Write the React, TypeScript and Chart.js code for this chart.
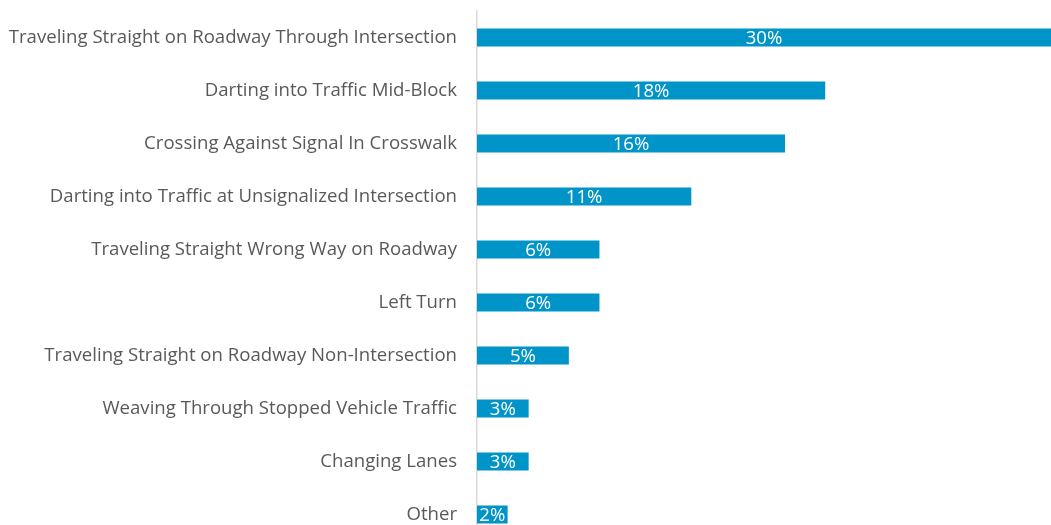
import React, { useEffect, useRef } from "react";
import { Chart, registerables } from "chart.js";

Chart.register(...registerables);

// Pre-crash action categories, top to bottom
const categories: string[] = [
  "Traveling Straight on Roadway Through Intersection",
  "Darting into Traffic Mid-Block",
  "Crossing Against Signal In Crosswalk",
  "Darting into Traffic at Unsignalized Intersection",
  "Traveling Straight Wrong Way on Roadway",
  "Left Turn",
  "Traveling Straight on Roadway Non-Intersection",
  "Weaving Through Stopped Vehicle Traffic",
  "Changing Lanes",
  "Other",
];

// Share of crashes (percent)
const shares: number[] = [30, 18.2, 16.1, 11.2, 6.4, 6.4, 4.8, 2.7, 2.7, 1.6];

const BAR_COLOR = "#0094c8";
const LABEL_COLOR = "#595959";
const FONT = "'Open Sans', Lato, sans-serif";
const FONT_SIZE = 18.6;

// Draws the rounded percentage in white at the middle of each bar
const barValueLabels = {
  id: "barValueLabels",
  afterDatasetsDraw(chart: any) {
    const { ctx } = chart;
    const meta = chart.getDatasetMeta(0);
    const values = chart.data.datasets[0].data as number[];
    ctx.save();
    ctx.beginPath();
    ctx.rect(chart.chartArea.left, chart.chartArea.top, chart.chartArea.width, chart.chartArea.height);
    ctx.clip();
    ctx.fillStyle = "#ffffff";
    ctx.font = `${FONT_SIZE}px ${FONT}`;
    ctx.textAlign = "center";
    ctx.textBaseline = "middle";
    meta.data.forEach((bar: any, i: number) => {
      const cx = (bar.base + bar.x) / 2;
      ctx.fillText(`${Math.round(values[i])}%`, cx, bar.y + 1);
    });
    ctx.restore();
  },
};

export default function App() {
  const canvasRef = useRef<HTMLCanvasElement | null>(null);

  useEffect(() => {
    if (!canvasRef.current) return;
    const chart = new Chart(canvasRef.current, {
      type: "bar",
      data: {
        labels: categories,
        datasets: [
          {
            data: shares,
            backgroundColor: BAR_COLOR,
            borderWidth: 0,
            categoryPercentage: 1,
            barPercentage: 0.34,
          },
        ],
      },
      options: {
        indexAxis: "y",
        animation: false,
        responsive: false,
        maintainAspectRatio: false,
        layout: { padding: { top: 11, bottom: 4, left: 0, right: 0 } },
        plugins: {
          legend: { display: false },
          tooltip: { enabled: false },
        },
        scales: {
          x: {
            display: false,
            min: 0,
            max: 30,
          },
          y: {
            grid: { display: false, drawTicks: false },
            border: { display: true, color: "#d9d9d9", width: 1.5 },
            ticks: {
              color: LABEL_COLOR,
              padding: 20,
              font: { family: FONT, size: FONT_SIZE },
            },
            afterFit(scale: any) {
              scale.width = 477;
              scale.paddingTop = 0;
              scale.paddingBottom = 0;
            },
          },
        },
      },
      plugins: [barValueLabels],
    });
    return () => chart.destroy();
  }, []);

  return (
    <div
      style={{
        position: "fixed",
        left: 0,
        top: 0,
        width: 1051,
        height: 525,
        overflow: "hidden",
        background: "#ffffff",
      }}
    >
      <canvas ref={canvasRef} width={1051} height={545} style={{ display: "block" }} />
    </div>
  );
}
